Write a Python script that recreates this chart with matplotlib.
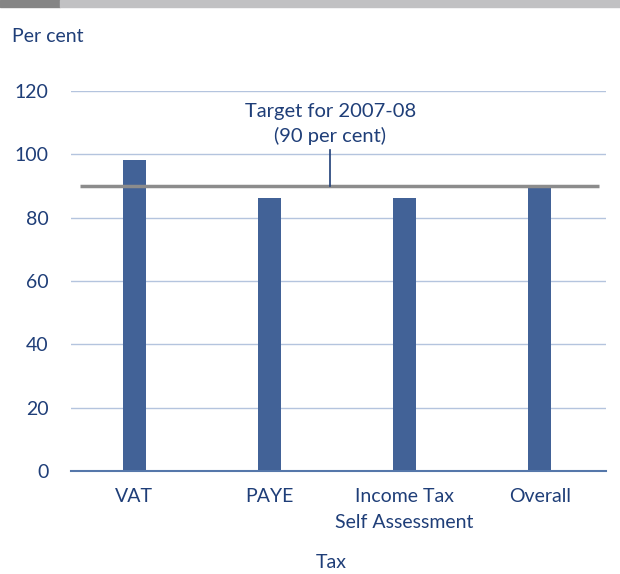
import matplotlib.pyplot as plt
from matplotlib.patches import Rectangle

categories = ["VAT", "PAYE", "Income Tax\nSelf Assessment", "Overall"]
values = [98.2, 86.1, 86.1, 90.0]
target = 90
yticks = [0, 20, 40, 60, 80, 100, 120]

navy = "#1F3E78"
bar_col = "#426297"
grid_col = "#B4C4DE"

plt.rcParams["font.family"] = ["Lato", "DejaVu Sans"]

fig = plt.figure(figsize=(6.2, 5.74), dpi=100)
ax = fig.add_axes([71 / 620, 1 - 471 / 574, (606 - 71) / 620, (471 - 91) / 574])

# grey band along the top
fig.patches.append(Rectangle((0, 1 - 7 / 574), 60 / 620, 7 / 574, transform=fig.transFigure,
                             color="#858585", zorder=5))
fig.patches.append(Rectangle((60 / 620, 1 - 7 / 574), 1, 7 / 574, transform=fig.transFigure,
                             color="#C1C1C3", zorder=5))

x = range(len(categories))
ax.bar(x, values, width=0.17, color=bar_col, zorder=3)
ax.set_xlim(-0.467, 3.49)
ax.set_ylim(0, 120)
ax.set_yticks(yticks)
ax.yaxis.grid(True, color=grid_col, linewidth=1)
ax.set_axisbelow(True)
for s in ["top", "right", "left"]:
    ax.spines[s].set_visible(False)
ax.spines["bottom"].set_color("#5577AA")
ax.spines["bottom"].set_linewidth(1.5)
ax.spines["bottom"].set_zorder(4)

ax.set_xticks(list(x))
ax.set_xticklabels(categories, fontsize=14, color=navy, linespacing=1.65, va="top")
ax.tick_params(axis="both", length=0, labelsize=14, labelcolor=navy)
ax.tick_params(axis="y", pad=16)
ax.tick_params(axis="x", pad=12)
for lab in ax.get_yticklabels():
    lab.set_horizontalalignment("right")

# target line and annotation
ax.plot([-0.4, 3.437], [target, target], color="#8C8C8C", linewidth=2.5, zorder=4,
        solid_capstyle="butt")
ax.plot([1.45, 1.45], [target, 101.5], color=navy, linewidth=1.2, zorder=4)
ax.text(1.45, 103, "Target for 2007-08\n(90 per cent)", ha="center", va="bottom",
        fontsize=14.5, color=navy, linespacing=1.45)

fig.text(12 / 620, 1 - 37 / 574, "Per cent", fontsize=14, color=navy, va="center", ha="left")
fig.text(331 / 620, 1 - 562 / 574, "Tax", fontsize=14, color=navy, va="center", ha="center")

fig.savefig("out.png", dpi=100)
